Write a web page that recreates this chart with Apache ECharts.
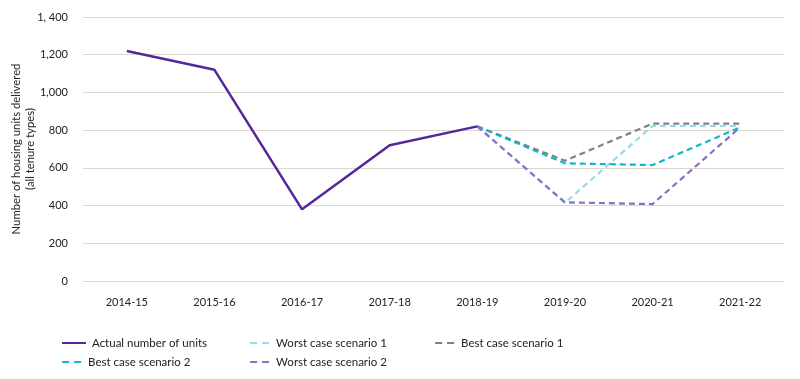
<!DOCTYPE html>
<html><head><meta charset="utf-8">
<script src="https://cdn.jsdelivr.net/npm/echarts@6/dist/echarts.min.js"></script>
<style>html,body{margin:0;padding:0;background:#fff}#c{width:800px;height:379px}</style>
</head><body><div id="c"></div>
<script>
var categories = ['2014-15','2015-16','2016-17','2017-18','2018-19','2019-20','2020-21','2021-22'];
var yTickLabels = ['0','200','400','600','800','1,000','1,200','1, 400'];
var actual = [1220, 1120, 380, 720, 820, null, null, null];
var worst1 = [null, null, null, null, 820, 415, 822, 822];
var best1  = [null, null, null, null, 820, 638, 835, 835];
var best2  = [null, null, null, null, 820, 624, 615, 815];
var worst2 = [null, null, null, null, 820, 417, 408, 815];

var FONT = 'Lato';
var TXT = '#222';
var names = ['Actual number of units','Worst case scenario 1','Best case scenario 1','Best case scenario 2','Worst case scenario 2'];
var colors = ['#54279a','#94dbeb','#808080','#11b7cb','#8c6fc0'];
var legendPos = [[61,337],[249,337],[434,337],[61,356],[249,356]];

function mkSeries(i, data, dashed){
  return {name:names[i], type:'line', data:data, symbol:'none', connectNulls:false,
    lineStyle:{color:colors[i], width: dashed?2.2:2.5, type: dashed?[6,4]:'solid'},
    itemStyle:{color:colors[i]}, z: dashed?2:3};
}
var legends = names.map(function(n,i){
  var lg = {data:[n], left:legendPos[i][0], top:legendPos[i][1], itemWidth: i===0?24:20, itemHeight:12, itemGap: i===0?6:10,
    itemStyle:{opacity:0},
    textStyle:{fontFamily:FONT, fontSize:11.5, color:TXT, padding:[0,0,0,1]}, padding:0, selectedMode:false};
  if (i > 0) lg.lineStyle = {type:[7,5], width:2.2};
  return lg;
});
var chart = echarts.init(document.getElementById('c'), null, {renderer:'canvas'});
chart.setOption({
  animation:false,
  grid:{left:83, right:16, top:17, bottom:98, containLabel:false, outerBoundsMode:'none'},
  legend: legends,
  xAxis:{type:'category', data:categories, boundaryGap:true,
    axisLine:{show:false}, axisTick:{show:false},
    axisLabel:{fontFamily:FONT, fontSize:11, color:TXT, margin:16}},
  yAxis:{type:'value', min:0, max:1400, interval:200,
    name:'Number of housing units delivered\n(all tenure types)', nameLocation:'middle', nameGap:46, nameRotate:90,
    nameMoveOverlap:false,
    nameTextStyle:{fontFamily:FONT, fontSize:11.3, color:TXT, lineHeight:14},
    axisLine:{show:false}, axisTick:{show:false},
    axisLabel:{fontFamily:FONT, fontSize:11, color:TXT, margin:15, formatter:function(v){return yTickLabels[Math.round(v/200)];}},
    splitLine:{lineStyle:{color:'#dcd6d0', width:1}}},
  series:[
    mkSeries(0, actual, false),
    mkSeries(2, best1, true),
    mkSeries(1, worst1, true),
    mkSeries(3, best2, true),
    mkSeries(4, worst2, true)
  ]
});
</script></body></html>
